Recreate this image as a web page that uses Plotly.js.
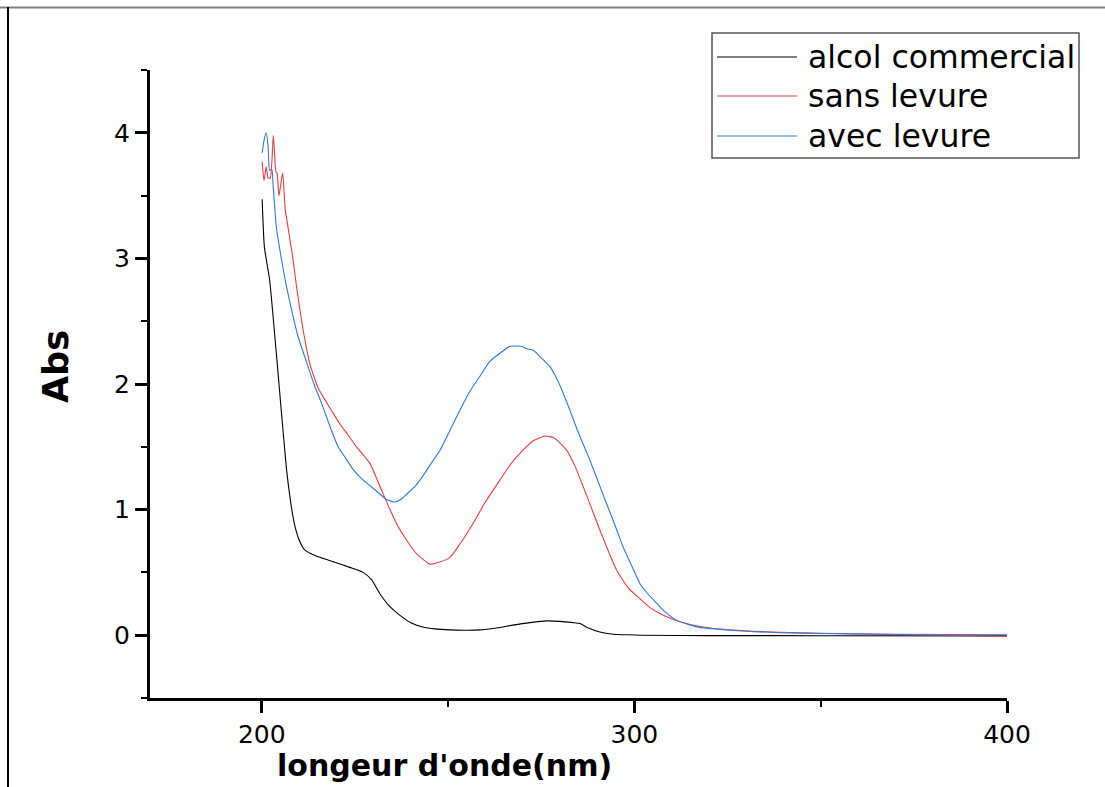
<!DOCTYPE html>
<html>
<head>
<meta charset="utf-8">
<script src="https://cdn.plot.ly/plotly-3.0.1.min.js"></script>
<style>html,body{margin:0;padding:0;background:#fff;}#chart{width:1105px;height:787px;}</style>
</head>
<body>
<div id="chart"></div>
<script>
// ---- data ----
const seriesNames = ["alcol commercial", "sans levure", "avec levure"];
const seriesColors = ["#000000", "#f03c3c", "#2a7ae8"];

const wlCommercial = [200.1, 200.7, 202.1, 204.3, 206.6, 207.8, 208.8, 210, 211.5, 213.5, 215.6, 219.6, 223.6, 227.2, 229.5, 231.7, 234, 237, 240, 243.2, 246.5, 250.5, 255, 258.5, 263, 267.4, 272, 276.5, 280, 283.5, 285.4, 287.5, 290.7, 294.3, 298, 302, 320, 350, 400];
const absCommercial = [3.47, 3.09, 2.83, 2.11, 1.33, 1.05, 0.88, 0.76, 0.68, 0.645, 0.62, 0.58, 0.54, 0.50, 0.44, 0.33, 0.24, 0.16, 0.10, 0.066, 0.05, 0.042, 0.04, 0.042, 0.058, 0.08, 0.10, 0.114, 0.11, 0.10, 0.093, 0.06, 0.026, 0.008, 0.003, 0.0, -0.003, -0.004, -0.005];

const wlSans = [200.1, 200.6, 201.2, 201.7, 202.3, 203.1, 203.8, 204.1, 204.6, 205.6, 206.3, 207.3, 208.4, 209.3, 210.2, 211.1, 212.9, 215.1, 219.1, 221, 223, 225.4, 229, 231.5, 234.4, 236.5, 238.8, 241.5, 245.1, 247.5, 250.5, 253.5, 256.7, 260, 263.9, 267, 270.1, 273, 276, 278.5, 281.8, 284, 286.3, 288.5, 290.7, 293, 295.2, 298.5, 301.5, 304.2, 307, 310.4, 315, 321.2, 331.9, 339, 350, 370, 400];
const absSans = [3.77, 3.62, 3.73, 3.64, 3.64, 3.98, 3.69, 3.68, 3.50, 3.68, 3.39, 3.20, 2.99, 2.78, 2.60, 2.43, 2.16, 1.97, 1.77, 1.68, 1.60, 1.50, 1.37, 1.20, 1.00, 0.87, 0.76, 0.65, 0.566, 0.58, 0.62, 0.74, 0.89, 1.06, 1.235, 1.37, 1.474, 1.55, 1.586, 1.57, 1.474, 1.35, 1.18, 1.01, 0.84, 0.67, 0.52, 0.37, 0.29, 0.22, 0.17, 0.125, 0.085, 0.053, 0.032, 0.024, 0.015, 0.005, -0.008];

const wlAvec = [200.1, 200.6, 201.2, 201.7, 202.1, 202.7, 203.0, 203.9, 205.3, 206.6, 208, 209.7, 212.4, 214, 216, 218.7, 220.5, 222.5, 224.5, 227, 229.9, 233.5, 235.7, 237.3, 238.8, 241, 243.3, 245.5, 247.8, 251.8, 255.8, 258.5, 261.2, 263.9, 266.6, 269.7, 271.1, 272.8, 274.6, 277.3, 280, 282.7, 285, 288.1, 290.3, 292.5, 295, 297, 299, 301.5, 303.3, 305.5, 307.7, 311.3, 316.7, 325.6, 339, 350, 370, 400];
const absAvec = [3.84, 3.94, 4.00, 3.89, 3.70, 3.71, 3.60, 3.25, 2.99, 2.78, 2.59, 2.38, 2.14, 2.00, 1.85, 1.63, 1.50, 1.41, 1.32, 1.24, 1.17, 1.08, 1.06, 1.08, 1.12, 1.18, 1.27, 1.37, 1.47, 1.71, 1.94, 2.06, 2.18, 2.245, 2.30, 2.30, 2.28, 2.27, 2.22, 2.14, 1.99, 1.79, 1.61, 1.39, 1.22, 1.05, 0.86, 0.70, 0.57, 0.41, 0.34, 0.27, 0.20, 0.12, 0.066, 0.04, 0.02, 0.014, 0.008, 0.004];

const xTickVals = [200, 300, 400];
const yTickVals = [0, 1, 2, 3, 4];
const xTitle = "longeur d'onde(nm)";
const yTitle = "Abs";

// ---- layout helpers (pixel -> paper) ----
const W = 1105, H = 787, ML = 150, MR = 98, MT = 70, MB = 89;
const PW = W - ML - MR, PH = H - MT - MB;
const px = p => (p - ML) / PW;
const py = p => (H - MB - p) / PH;

const xs = [wlCommercial, wlSans, wlAvec];
const ys = [absCommercial, absSans, absAvec];
const traces = seriesNames.map((n, i) => ({
  type: 'scatter', mode: 'lines', name: n, x: xs[i], y: ys[i],
  line: {color: seriesColors[i], width: 1.1, shape: 'spline', smoothing: 0.5}, showlegend: false
}));

const FONT = "DejaVu Sans, Liberation Sans, Arial, sans-serif";
const shapes = [
  // outer frame
  {type: 'line', xref: 'paper', yref: 'paper', x0: px(0), x1: px(W), y0: py(7.5), y1: py(7.5), line: {color: '#808080', width: 2}},
  {type: 'line', xref: 'paper', yref: 'paper', x0: px(8), x1: px(8), y0: py(7), y1: py(H + 2), line: {color: '#000', width: 2}},
  // legend box
  {type: 'rect', xref: 'paper', yref: 'paper', x0: px(712), x1: px(1079), y0: py(33), y1: py(158), line: {color: '#555', width: 1.5}, fillcolor: 'rgba(0,0,0,0)'}
];
const legendRows = [57, 96, 136];
const annotations = [];
seriesNames.forEach((n, i) => {
  shapes.push({type: 'line', xref: 'paper', yref: 'paper', x0: px(717), x1: px(797), y0: py(legendRows[i]), y1: py(legendRows[i]), line: {color: seriesColors[i], width: 1.1}});
  annotations.push({xref: 'paper', yref: 'paper', x: px(806), y: py(legendRows[i]), xanchor: 'left', yanchor: 'middle', text: n, showarrow: false, font: {family: FONT, size: 31.5, color: '#000'}});
});
annotations.push({xref: 'paper', yref: 'paper', x: px(444), y: py(765), xanchor: 'center', yanchor: 'middle', text: '<b>' + xTitle + '</b>', showarrow: false, font: {family: FONT, size: 30, color: '#000'}});
annotations.push({xref: 'paper', yref: 'paper', x: px(56), y: py(367), xanchor: 'center', yanchor: 'middle', textangle: -90, text: '<b>' + yTitle + '</b>', showarrow: false, font: {family: FONT, size: 35, color: '#000'}});

const layout = {
  width: W, height: H,
  margin: {l: ML, r: MR, t: MT, b: MB, pad: 0},
  paper_bgcolor: '#fff', plot_bgcolor: '#fff',
  showlegend: false,
  font: {family: FONT, color: '#000'},
  xaxis: {
    range: [170, 400], tickvals: xTickVals, ticktext: xTickVals.map(String),
    showline: true, linecolor: '#000', linewidth: 3, mirror: false,
    ticks: 'outside', ticklen: 12, tickwidth: 3, tickcolor: '#000',
    minor: {dtick: 50, tick0: 200, ticks: 'outside', ticklen: 6, tickwidth: 2, tickcolor: '#000', showgrid: false},
    showgrid: false, zeroline: false,
    tickfont: {family: FONT, size: 25, color: '#000'}
  },
  yaxis: {
    range: [-0.5, 4.5], tickvals: yTickVals, ticktext: yTickVals.map(String),
    showline: true, linecolor: '#000', linewidth: 3, mirror: false,
    ticks: 'outside', ticklen: 12, tickwidth: 3, tickcolor: '#000',
    minor: {dtick: 0.5, tick0: 0, ticks: 'outside', ticklen: 6, tickwidth: 2, tickcolor: '#000', showgrid: false},
    showgrid: false, zeroline: false,
    tickfont: {family: FONT, size: 25, color: '#000'}
  },
  shapes: shapes,
  annotations: annotations
};

Plotly.newPlot('chart', traces, layout, {displayModeBar: false, staticPlot: true});
</script>
</body>
</html>
